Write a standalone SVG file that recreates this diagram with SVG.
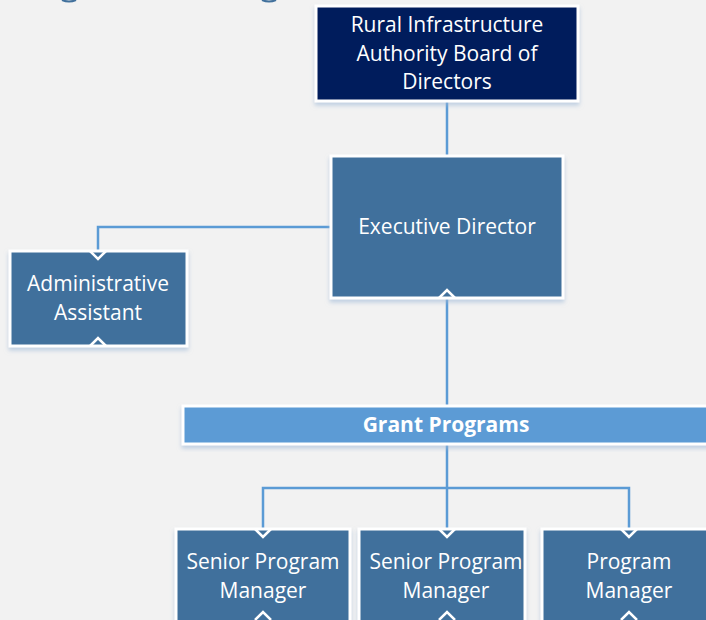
<svg xmlns="http://www.w3.org/2000/svg" width="706" height="620" viewBox="0 0 706 620">
<defs>
<filter id="sh" x="-10%" y="-10%" width="120%" height="130%">
<feDropShadow dx="0" dy="3" stdDeviation="2" flood-color="#9db8d6" flood-opacity="0.6"/>
</filter>
</defs>
<style>
.box{stroke:#ffffff;stroke-width:3;filter:url(#sh)}
.navy{fill:#061f5c}
.mid{fill:#41709c}
.light{fill:#5b9bd5}
.t{font-family:"Open Sans","Liberation Sans",sans-serif;font-size:21px;fill:#ffffff;text-anchor:middle}
.b{font-weight:bold}
.c{fill:none;stroke:#5b9bd5;stroke-width:2.5}
.chev{fill:none;stroke:#ffffff;stroke-width:2.5}
</style>
<rect width="706" height="620" fill="#f2f2f2"/>
<path d="M62 0 Q69 3 76 0" fill="none" stroke="#41709c" stroke-width="2"/>
<path d="M262 0 Q269 3 276 0" fill="none" stroke="#41709c" stroke-width="2"/>
<g id="connectors">
<path class="c" d="M447 101 V156"/>
<path class="c" d="M331 227 H98 V251"/>
<path class="c" d="M447 298 V529"/>
<path class="c" d="M263 529 V488 H629 V529"/>
</g>
<g id="board">
<rect class="box navy" x="316" y="6" width="262" height="95"/>
<text class="t" x="447" y="32">Rural Infrastructure</text>
<text class="t" x="447" y="61">Authority Board of</text>
<text class="t" x="447" y="89">Directors</text>
</g>
<g id="exec">
<rect class="box mid" x="331" y="156" width="232" height="142"/>
<text class="t" x="447" y="234">Executive Director</text>
<polyline class="chev" points="439,298 447,290 455,298"/>
</g>
<g id="admin">
<rect class="box mid" x="10" y="251" width="177" height="95"/>
<text class="t" x="98" y="291">Administrative</text>
<text class="t" x="98" y="320">Assistant</text>
<polyline class="chev" points="90,251 98,259 106,251"/>
<polyline class="chev" points="90,346 98,338 106,346"/>
</g>
<g id="grant">
<rect class="box light" x="183" y="406" width="530" height="38"/>
<text class="t b" x="446" y="432">Grant Programs</text>
</g>
<g id="spm1">
<rect class="box mid" x="176" y="529" width="174" height="100"/>
<text class="t" x="263" y="569">Senior Program</text>
<text class="t" x="263" y="598">Manager</text>
<polyline class="chev" points="255,529 263,537 271,529"/>
<polyline class="chev" points="255,620 263,612 271,620"/>
</g>
<g id="spm2">
<rect class="box mid" x="359" y="529" width="166" height="100"/>
<text class="t" x="446" y="569">Senior Program</text>
<text class="t" x="446" y="598">Manager</text>
<polyline class="chev" points="439,529 447,537 455,529"/>
<polyline class="chev" points="439,620 447,612 455,620"/>
</g>
<g id="pm">
<rect class="box mid" x="542" y="529" width="174" height="100"/>
<text class="t" x="629" y="569">Program</text>
<text class="t" x="629" y="598">Manager</text>
<polyline class="chev" points="621,529 629,537 637,529"/>
<polyline class="chev" points="621,620 629,612 637,620"/>
</g>
</svg>
